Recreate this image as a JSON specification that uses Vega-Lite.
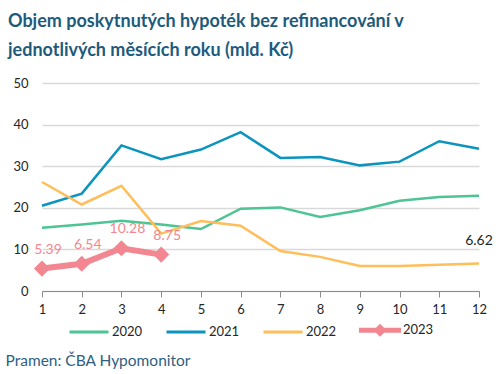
{
  "$schema": "https://vega.github.io/schema/vega-lite/v6.json",
  "autosize": "none",
  "width": 437,
  "height": 208,
  "padding": {"left": 42, "top": 83, "right": 22, "bottom": 83},
  "background": "white",
  "title": {
    "text": ["Objem poskytnutých hypoték bez refinancování v", "jednotlivých měsících roku (mld. Kč)"],
    "anchor": "start",
    "frame": "group",
    "font": "Lato",
    "fontSize": 18,
    "fontWeight": "bold",
    "color": "#1E5B7B",
    "lineHeight": 29,
    "dx": -34,
    "offset": 17
  },
  "config": {
    "view": {"stroke": null},
    "axis": {"labelFont": "Lato", "labelFontSize": 13, "labelColor": "#262626", "titleFont": "Lato"},
    "legend": {"labelFont": "Lato", "labelFontSize": 13, "labelColor": "#262626"}
  },
  "data": {
    "values": [
      {"month": 1, "year": "2020", "value": 15.2},
      {"month": 2, "year": "2020", "value": 16.0},
      {"month": 3, "year": "2020", "value": 16.9},
      {"month": 4, "year": "2020", "value": 16.0},
      {"month": 5, "year": "2020", "value": 14.9},
      {"month": 6, "year": "2020", "value": 19.8},
      {"month": 7, "year": "2020", "value": 20.1},
      {"month": 8, "year": "2020", "value": 17.8},
      {"month": 9, "year": "2020", "value": 19.4},
      {"month": 10, "year": "2020", "value": 21.7},
      {"month": 11, "year": "2020", "value": 22.6},
      {"month": 12, "year": "2020", "value": 22.9},
      {"month": 1, "year": "2021", "value": 20.5},
      {"month": 2, "year": "2021", "value": 23.4},
      {"month": 3, "year": "2021", "value": 35.0},
      {"month": 4, "year": "2021", "value": 31.7},
      {"month": 5, "year": "2021", "value": 34.0},
      {"month": 6, "year": "2021", "value": 38.2},
      {"month": 7, "year": "2021", "value": 32.0},
      {"month": 8, "year": "2021", "value": 32.2},
      {"month": 9, "year": "2021", "value": 30.2},
      {"month": 10, "year": "2021", "value": 31.1},
      {"month": 11, "year": "2021", "value": 36.0},
      {"month": 12, "year": "2021", "value": 34.2},
      {"month": 1, "year": "2022", "value": 26.2},
      {"month": 2, "year": "2022", "value": 20.8},
      {"month": 3, "year": "2022", "value": 25.3},
      {"month": 4, "year": "2022", "value": 13.8},
      {"month": 5, "year": "2022", "value": 16.8},
      {"month": 6, "year": "2022", "value": 15.7},
      {"month": 7, "year": "2022", "value": 9.6},
      {"month": 8, "year": "2022", "value": 8.2},
      {"month": 9, "year": "2022", "value": 6.0},
      {"month": 10, "year": "2022", "value": 6.0},
      {"month": 11, "year": "2022", "value": 6.3},
      {"month": 12, "year": "2022", "value": 6.62},
      {"month": 1, "year": "2023", "value": 5.39},
      {"month": 2, "year": "2023", "value": 6.54},
      {"month": 3, "year": "2023", "value": 10.28},
      {"month": 4, "year": "2023", "value": 8.75}
    ]
  },
  "encoding": {
    "x": {
      "field": "month",
      "type": "quantitative",
      "scale": {"domain": [1, 12], "nice": false, "zero": false},
      "axis": {
        "values": [1, 2, 3, 4, 5, 6, 7, 8, 9, 10, 11, 12],
        "format": "d",
        "grid": false,
        "domainColor": "#8C8C8C",
        "tickColor": "#8C8C8C",
        "tickSize": 6,
        "labelPadding": 6,
        "labelFlush": false,
        "title": "Pramen: ČBA Hypomonitor",
        "titleFontSize": 15.5,
        "titleFontWeight": "normal",
        "titleColor": "#2F5F80",
        "titleAnchor": "start",
        "titleAlign": "left",
        "titleBaseline": "alphabetic",
        "titleX": -37,
        "titleY": 74
      }
    },
    "y": {
      "field": "value",
      "type": "quantitative",
      "scale": {"domain": [0, 50], "nice": false},
      "axis": {
        "values": [0, 10, 20, 30, 40, 50],
        "domain": false,
        "ticks": false,
        "labelPadding": 14,
        "gridColor": "#D9D9D9",
        "gridWidth": 1.5,
        "title": null
      }
    }
  },
  "layer": [
    {
      "transform": [{"filter": "datum.year !== '2023'"}],
      "mark": {"type": "line", "strokeWidth": 2.5},
      "encoding": {
        "color": {
          "field": "year",
          "type": "nominal",
          "scale": {"domain": ["2020", "2021", "2022", "2023"], "range": ["#4DC493", "#0A94BE", "#FFBE5A", "#F28792"]},
          "legend": {
            "title": null,
            "orient": "none",
            "direction": "horizontal",
            "legendX": 26,
            "legendY": 226,
            "padding": 0,
            "symbolType": "M-1,0L1,0",
            "symbolSize": 1521,
            "symbolStrokeWidth": 3,
            "labelOffset": 2,
            "columnPadding": 17,
            "encode": {
              "symbols": {
                "update": {
                  "shape": {"signal": "datum.value === '2023' ? 'M-1,-0.05L-0.18,-0.05L0,-0.23L0.18,-0.05L1,-0.05L1,0.05L0.18,0.05L0,0.23L-0.18,0.05L-1,0.05Z' : 'M-1,0L1,0'"},
                  "fill": {"signal": "datum.value === '2023' ? '#F28792' : 'transparent'"}
                }
              }
            }
          }
        }
      }
    },
    {
      "transform": [{"filter": "datum.year === '2023'"}],
      "mark": {"type": "line", "strokeWidth": 6, "color": "#F28792"},
      "encoding": {"color": {"field": "year", "type": "nominal"}}
    },
    {
      "transform": [{"filter": "datum.year === '2023'"}],
      "mark": {"type": "point", "shape": "diamond", "size": 260, "filled": true, "opacity": 1},
      "encoding": {"color": {"field": "year", "type": "nominal"}}
    },
    {
      "transform": [{"filter": "datum.year === '2023'"}],
      "mark": {"type": "text", "font": "Lato", "fontSize": 14, "color": "#F28792", "dx": 6, "dy": -19, "baseline": "middle", "align": "center"},
      "encoding": {"text": {"field": "value", "type": "quantitative", "format": ".2f"}}
    },
    {
      "transform": [{"filter": "datum.year === '2022' && datum.month === 12"}],
      "mark": {"type": "text", "font": "Lato", "fontSize": 14, "color": "#262626", "dy": -22, "baseline": "middle", "align": "center"},
      "encoding": {"text": {"field": "value", "type": "quantitative", "format": ".2f"}}
    }
  ]
}
